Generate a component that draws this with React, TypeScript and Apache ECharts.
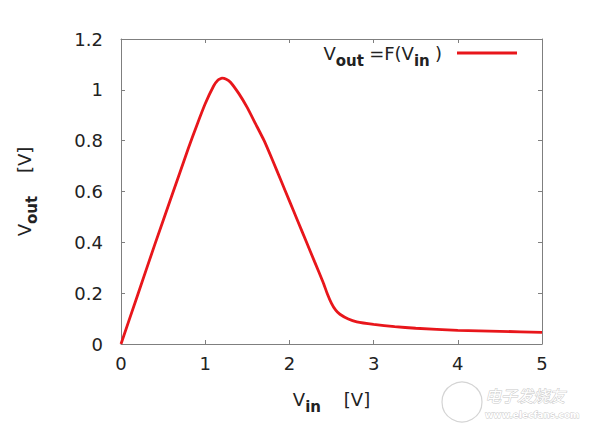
import React, { useEffect, useRef } from "react";
import * as echarts from "echarts";

const vin = [0, 0.2, 0.4, 0.6, 0.8, 0.9, 1.0, 1.1, 1.15, 1.2, 1.25, 1.3, 1.4, 1.5, 1.6, 1.7, 1.8, 1.9, 2.0, 2.1, 2.2, 2.3, 2.4, 2.45, 2.5, 2.55, 2.6, 2.7, 2.8, 3.0, 3.25, 3.5, 4.0, 4.5, 5.0];
const vout = [0, 0.195, 0.39, 0.58, 0.77, 0.86, 0.945, 1.015, 1.038, 1.046, 1.042, 1.03, 0.985, 0.93, 0.865, 0.8, 0.723, 0.643, 0.563, 0.483, 0.403, 0.323, 0.243, 0.198, 0.16, 0.133, 0.117, 0.098, 0.087, 0.077, 0.068, 0.062, 0.054, 0.05, 0.046];
const xTicks = { min: 0, max: 5, interval: 1 };
const yTicks = { min: 0, max: 1.2, interval: 0.2 };
const seriesName = "Vout=F(Vin)";

const FONT = "DejaVu Sans";
const AXIS_COLOR = "#7f7f7f";
const TEXT_COLOR = "#222222";
const RED = "#e8161b";

export default function App() {
  const ref = useRef<HTMLDivElement>(null);
  useEffect(() => {
    if (!ref.current) return;
    const chart = echarts.init(ref.current, undefined, { renderer: "svg" });
    const axisLine = { show: true, onZero: false, lineStyle: { color: AXIS_COLOR, width: 1 } };
    const axisTick = { show: true, inside: true, length: 4, lineStyle: { color: AXIS_COLOR } };
    const rich = {
      n: { fontFamily: FONT, fontSize: 18, color: TEXT_COLOR, lineHeight: 30, verticalAlign: "middle" },
      s: { fontFamily: FONT, fontSize: 15, color: TEXT_COLOR, fontWeight: 600, lineHeight: 15, verticalAlign: "bottom" },
    };
    chart.setOption({
      animation: false,
      backgroundColor: "#ffffff",
      grid: { left: 121, right: 51, top: 39, bottom: 87 },
      legend: {
        show: true,
        data: [seriesName],
        right: 71,
        top: 39,
        align: "right",
        icon: "rect",
        itemWidth: 60,
        itemHeight: 3,
        formatter: () => "{n|V}{s|out }{n|=F(V}{s|in }{n|)}{g| }",
        textStyle: {
          rich: {
            ...rich,
            g: { fontSize: 18, width: 10 },
          },
        },
      },
      xAxis: [
        {
          type: "value",
          ...xTicks,
          position: "bottom",
          axisLine,
          axisTick,
          splitLine: { show: false },
          axisLabel: { fontFamily: FONT, fontSize: 18, color: TEXT_COLOR, margin: 10 },
          name: "{n|V}{s|in}{n|    [V]}",
          nameLocation: "middle",
          nameGap: 40,
          nameTextStyle: { rich },
        },
        {
          type: "value",
          ...xTicks,
          position: "top",
          axisLine,
          axisTick,
          splitLine: { show: false },
          axisLabel: { show: false },
        },
      ],
      yAxis: [
        {
          type: "value",
          ...yTicks,
          position: "left",
          axisLine,
          axisTick,
          splitLine: { show: false },
          axisLabel: { fontFamily: FONT, fontSize: 18, color: TEXT_COLOR, margin: 18 },
          name: "{n|V}{s|out}{n|    [V]}",
          nameLocation: "middle",
          nameRotate: 90,
          nameGap: 82,
          nameTextStyle: { rich },
        },
        {
          type: "value",
          ...yTicks,
          position: "right",
          axisLine,
          axisTick,
          splitLine: { show: false },
          axisLabel: { show: false },
        },
      ],
      series: [
        {
          name: seriesName,
          type: "line",
          xAxisIndex: 0,
          yAxisIndex: 0,
          data: vin.map((x, i) => [x, vout[i]]),
          showSymbol: false,
          symbol: "none",
          smooth: 0.15,
          lineStyle: { color: RED, width: 2.8 },
          itemStyle: { color: RED },
        },
      ],
      graphic: [
        {
          type: "circle",
          shape: { cx: 462, cy: 402, r: 20 },
          style: { fill: "#ffffff", stroke: "#d4d4d4", lineWidth: 1.2 },
          silent: true,
        },
        {
          type: "text",
          x: 485,
          y: 395,
          style: {
            text: "电子发烧友",
            font: "italic 16px 'Noto Sans CJK SC'",
            fill: "#ffffff",
            stroke: "#c8c8c8",
            lineWidth: 1,
            verticalAlign: "middle",
          },
          silent: true,
        },
        {
          type: "text",
          x: 485,
          y: 415,
          style: {
            text: "www.elecfans.com",
            font: "bold 9px 'DejaVu Sans'",
            fill: "#ffffff",
            stroke: "#c8c8c8",
            lineWidth: 0.8,
            verticalAlign: "middle",
          },
          silent: true,
        },
      ],
    });
    return () => chart.dispose();
  }, []);
  return <div ref={ref} style={{ position: "fixed", left: 0, top: 0, width: 593, height: 431 }} />;
}
